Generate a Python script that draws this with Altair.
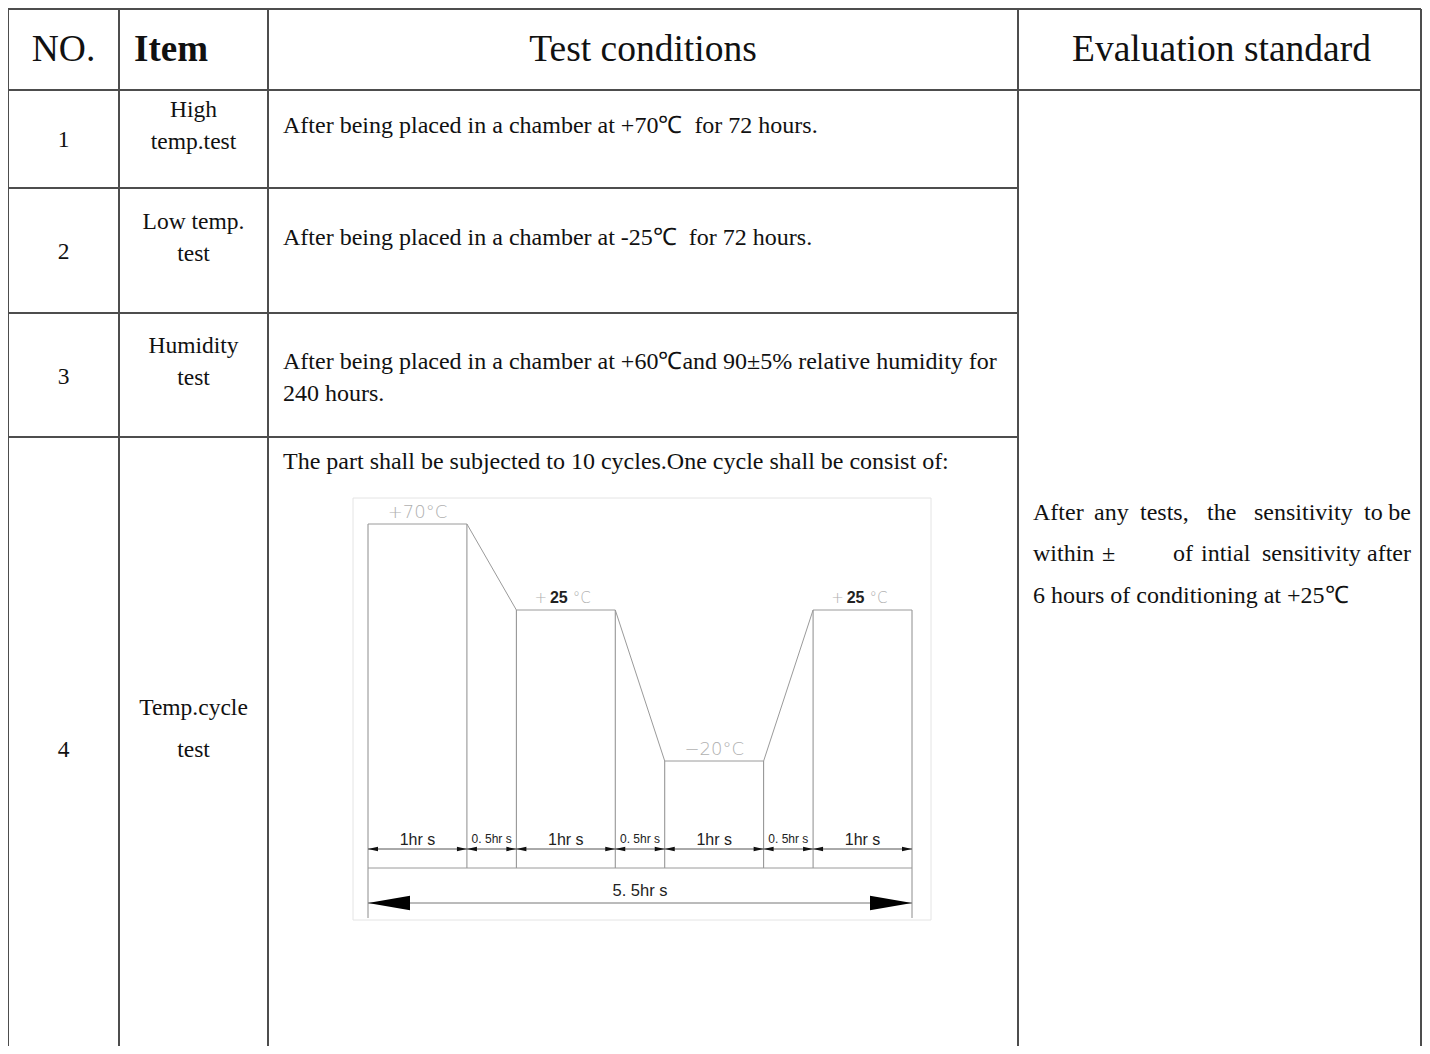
import altair as alt
import pandas as pd
import numpy as np

# ---------------- table content ----------------
headers = ["NO.", "Item", "Test conditions", "Evaluation standard"]
row_numbers = ["1", "2", "3", "4"]
item_lines = [["High", "temp.test"], ["Low temp.", "test"], ["Humidity", "test"], ["Temp.cycle", "test"]]
condition_lines = [
    ["After being placed in a chamber at +70\u2103\u00a0 for 72 hours."],
    ["After being placed in a chamber at -25\u2103\u00a0 for 72 hours."],
    ["After being placed in a chamber at +60\u2103and 90\u00b15% relative humidity for", "240 hours."],
    ["The part shall be subjected to 10 cycles.One cycle shall be consist of:"],
]
evaluation_words = [
    ["After", "any", "tests,", "the", "sensitivity", "to", "be"],
    ["within", "\u00b1", "of", "intial", "sensitivity", "after"],
    ["6 hours of conditioning at +25\u2103"],
]

# ---------------- temperature cycle ----------------
phase_hours = [1, 0.5, 1, 0.5, 1, 0.5, 1]
phase_labels = ["1hr s", "0. 5hr s", "1hr s", "0. 5hr s", "1hr s", "0. 5hr s", "1hr s"]
boundary_temps = [70, 70, 25, 25, -20, -20, 25, 25]
plateau_labels = ["+70\u00b0C", "+25\u00b0C", "\u221220\u00b0C", "+25\u00b0C"]
plateau_bold = [False, True, False, True]
total_label = "5. 5hr s"

# ---------------- layout (page pixels) ----------------
M = 8
W, H = 1414, 1038
col_edges = [8, 119, 268, 1018, 1425]
row_edges = [9, 90, 188, 313, 437]
table_bottom = 1054
number_y = [140, 252, 377, 750]
item_y = [[110, 142], [222, 254], [346, 378], [708, 750]]
cond_x = 283
cond_y = [[126], [238], [362, 394], [462]]
eval_y = [513, 554, 596]
eval_x = [[1033, 1094, 1140, 1207, 1254, 1364, 1411],
          [1033, 1102, 1173, 1201, 1262, 1411],
          [1033]]
header_y = 50

SERIF = "Liberation Serif"
SANS = "Liberation Sans"
GRID = "#4d4d4d"

def px(v):
    return v - M

def pxr(v):
    # keep the right/bottom border inside the drawable area
    return min(v - M, W - 1)

nox = alt.X("x:Q", scale=None, axis=None)
noy = alt.Y("y:Q", scale=None, axis=None)

# ---- grid lines ----
vlines = pd.DataFrame({
    "x": [pxr(c) for c in col_edges],
    "y": [px(row_edges[0])] * len(col_edges),
    "y2": [px(table_bottom)] * len(col_edges),
})
hl_rows = []
for i, r in enumerate(row_edges):
    right = col_edges[-1] if i < 2 else col_edges[3]
    hl_rows.append({"x": px(col_edges[0]), "x2": pxr(right), "y": px(r)})
hlines = pd.DataFrame(hl_rows)

grid_v = alt.Chart(vlines).mark_rule(color=GRID, strokeWidth=2).encode(
    x=nox, y=noy, y2="y2:Q")
grid_h = alt.Chart(hlines).mark_rule(color=GRID, strokeWidth=2).encode(
    x=nox, x2="x2:Q", y=noy)

# ---- header ----
col_centers = [(col_edges[i] + col_edges[i + 1]) / 2 for i in range(4)]
hdr = pd.DataFrame({
    "t": [headers[0], headers[2], headers[3]],
    "x": [px(col_centers[0]), px(col_centers[2]), px(col_centers[3])],
    "y": [px(header_y)] * 3,
})
hdr_txt = alt.Chart(hdr).mark_text(font=SERIF, fontSize=37.5, align="center", baseline="middle",
                                   color="#111").encode(x=nox, y=noy, text="t:N")
hdr_item = alt.Chart(pd.DataFrame({"t": [headers[1]], "x": [px(134)], "y": [px(header_y)]})).mark_text(
    font=SERIF, fontSize=37, fontWeight="bold", align="left", baseline="middle", color="#111"
).encode(x=nox, y=noy, text="t:N")

# ---- centered body text (numbers + items) ----
rows_c = []
for i, n in enumerate(row_numbers):
    rows_c.append({"t": n, "x": px(col_centers[0]), "y": px(number_y[i])})
    for j, line in enumerate(item_lines[i]):
        rows_c.append({"t": line, "x": px(col_centers[1]), "y": px(item_y[i][j])})
body_c = alt.Chart(pd.DataFrame(rows_c)).mark_text(
    font=SERIF, fontSize=23.5, align="center", baseline="middle", color="#111"
).encode(x=nox, y=noy, text="t:N")

# ---- left aligned body text ----
rows_l = []
for i, lines in enumerate(condition_lines):
    for j, line in enumerate(lines):
        rows_l.append({"t": line, "x": px(cond_x), "y": px(cond_y[i][j])})
rows_r = []
for i, words in enumerate(evaluation_words):
    for j, w in enumerate(words):
        rec = {"t": w, "x": px(eval_x[i][j]), "y": px(eval_y[i])}
        if i < 2 and j == len(words) - 1:
            rows_r.append(rec)
        else:
            rows_l.append(rec)
body_l = alt.Chart(pd.DataFrame(rows_l)).mark_text(
    font=SERIF, fontSize=24, align="left", baseline="middle", color="#111"
).encode(x=nox, y=noy, text="t:N")
body_r = alt.Chart(pd.DataFrame(rows_r)).mark_text(
    font=SERIF, fontSize=24, align="right", baseline="middle", color="#111"
).encode(x=nox, y=noy, text="t:N")

# ---------------- diagram ----------------
hx = alt.Scale(domain=[0, 5.5], range=[px(368), px(912)], nice=False, zero=False)
ty = alt.Scale(domain=[-20, 25, 70], range=[px(761), px(610), px(524)], nice=False, zero=False)

bh = np.concatenate([[0.0], np.cumsum(phase_hours)]).tolist()
profile = pd.DataFrame({"h": bh, "temp": boundary_temps, "i": list(range(len(bh)))})
segs = pd.DataFrame({
    "start": bh[:-1], "end": bh[1:],
    "mid": [(a + b) / 2 for a, b in zip(bh[:-1], bh[1:])],
    "label": phase_labels, "dur": phase_hours,
})
plateau_idx = [k for k in range(len(phase_hours)) if boundary_temps[k] == boundary_temps[k + 1]]
plats = pd.DataFrame({
    "mid": [(bh[k] + bh[k + 1]) / 2 for k in plateau_idx],
    "temp": [boundary_temps[k] for k in plateau_idx],
    "label": plateau_labels,
    "bold": plateau_bold,
})
total = pd.DataFrame({"start": [bh[0]], "end": [bh[-1]], "mid": [(bh[0] + bh[-1]) / 2], "label": [total_label]})

HX = lambda f: alt.X(f, scale=hx, axis=None)
TY = lambda f: alt.Y(f, scale=ty, axis=None)

frame = alt.Chart(total).mark_rect(fill="white", stroke="#e4e4e4", strokeWidth=1).encode(
    x=alt.value(px(353)), x2=alt.value(px(931)), y=alt.value(px(498)), y2=alt.value(px(920)))

prof = alt.Chart(profile).mark_line(color="#9a9a9a", strokeWidth=1).encode(
    x=HX("h:Q"), y=TY("temp:Q"), order="i:Q")
verts = alt.Chart(profile).mark_rule(color="#8c8c8c", strokeWidth=1).encode(
    x=HX("h:Q"), y=TY("temp:Q"), y2=alt.value(px(868)))
ends = alt.Chart(total.melt(value_vars=["start", "end"], value_name="h")).mark_rule(
    color="#8c8c8c", strokeWidth=1).encode(x=HX("h:Q"), y=alt.value(px(868)), y2=alt.value(px(918)))
base_line = alt.Chart(total).mark_rule(color="#9a9a9a", strokeWidth=1).encode(
    x=HX("start:Q"), x2="end:Q", y=alt.value(px(868)))
dim_line = alt.Chart(total).mark_rule(color="#555", strokeWidth=1).encode(
    x=HX("start:Q"), x2="end:Q", y=alt.value(px(849)))
tot_line = alt.Chart(total).mark_rule(color="#777", strokeWidth=1).encode(
    x=HX("start:Q"), x2="end:Q", y=alt.value(px(903)))

LEFT_SMALL = "M0,0L1,-0.22L1,0.22Z"
RIGHT_SMALL = "M0,0L-1,-0.22L-1,0.22Z"
arr_l = alt.Chart(segs).mark_point(shape=LEFT_SMALL, size=400, filled=True, opacity=1,
                                   color="#111", strokeWidth=0).encode(
    x=HX("start:Q"), y=alt.value(px(849)))
arr_r = alt.Chart(segs).mark_point(shape=RIGHT_SMALL, size=400, filled=True, opacity=1,
                                   color="#111", strokeWidth=0).encode(
    x=HX("end:Q"), y=alt.value(px(849)))
big_l = alt.Chart(total).mark_point(shape="M0,0L1,-0.17L1,0.17Z", size=7056, filled=True,
                                    opacity=1, color="#000", strokeWidth=0).encode(
    x=HX("start:Q"), y=alt.value(px(903)))
big_r = alt.Chart(total).mark_point(shape="M0,0L-1,-0.17L-1,0.17Z", size=7056, filled=True,
                                    opacity=1, color="#000", strokeWidth=0).encode(
    x=HX("end:Q"), y=alt.value(px(903)))

seg_big = alt.Chart(segs).transform_filter("datum.dur >= 1").mark_text(
    font=SANS, fontSize=16, color="#222", baseline="middle").encode(
    x=HX("mid:Q"), y=alt.value(px(840)), text="label:N")
seg_small = alt.Chart(segs).transform_filter("datum.dur < 1").mark_text(
    font=SANS, fontSize=12, color="#222", baseline="middle").encode(
    x=HX("mid:Q"), y=alt.value(px(839)), text="label:N")
tot_txt = alt.Chart(total).mark_text(font=SANS, fontSize=16.5, color="#222", baseline="middle").encode(
    x=HX("mid:Q"), y=alt.value(px(891)), text="label:N")

# plateau temperature labels
TEMP_FONT = "DejaVu Sans"
plain = alt.Chart(plats).transform_filter("!datum.bold").mark_text(
    font=TEMP_FONT, fontSize=18, fontWeight=200, color="#b0b0b0", baseline="middle", dy=-11).encode(
    x=HX("mid:Q"), y=TY("temp:Q"), text="label:N")
emph_plus = alt.Chart(plats).transform_filter("datum.bold").transform_calculate(
    part="substring(datum.label, 0, 1)").mark_text(
    font=TEMP_FONT, fontSize=15, fontWeight=200, color="#b0b0b0", baseline="middle", dx=-25, dy=-12).encode(
    x=HX("mid:Q"), y=TY("temp:Q"), text="part:N")
emph_num = alt.Chart(plats).transform_filter("datum.bold").transform_calculate(
    part="substring(datum.label, 1, 3)").mark_text(
    font=SANS, fontSize=16, fontWeight="bold", color="#222", baseline="middle", dx=-7, dy=-12).encode(
    x=HX("mid:Q"), y=TY("temp:Q"), text="part:N")
emph_unit = alt.Chart(plats).transform_filter("datum.bold").transform_calculate(
    part="substring(datum.label, 3)").mark_text(
    font=TEMP_FONT, fontSize=15, fontWeight=200, color="#b0b0b0", baseline="middle", dx=16, dy=-12).encode(
    x=HX("mid:Q"), y=TY("temp:Q"), text="part:N")

layers = [grid_v, grid_h, hdr_txt, hdr_item, body_c, body_l, body_r,
          frame, verts, ends, base_line, prof, dim_line, tot_line,
          arr_l, arr_r, big_l, big_r, seg_big, seg_small, tot_txt,
          plain, emph_plus, emph_num, emph_unit]

chart = alt.layer(*layers).resolve_scale(x="independent", y="independent").properties(
    width=W, height=H, padding=0, autosize=alt.AutoSizeParams(type="none"),
    background="white"
).configure_view(strokeWidth=0)

chart.save("out.html", embed_options={"renderer": "svg", "actions": False})
